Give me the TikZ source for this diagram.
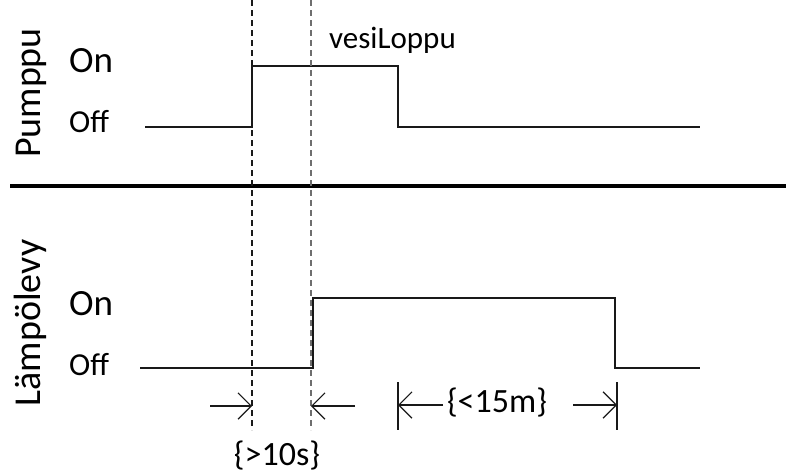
\documentclass[tikz,border=0pt]{standalone}
\usepackage{fontspec}
\setmainfont{Carlito}
\usetikzlibrary{arrows.meta,positioning}
\definecolor{sigblack}{RGB}{25,25,25}
\definecolor{guidegray}{RGB}{110,110,110}

\begin{document}
\begin{tikzpicture}[x=1pt,y=-1pt,
  signal/.style={line width=1.6pt,sigblack},
  guide/.style={dashed,dash pattern=on 6pt off 4pt,line width=1.1pt},
  tick/.style={line width=1.3pt,sigblack},
  dim/.style={-{Straight Barb[angle'=90,length=11pt,scale=1.2]},line width=1.1pt,sigblack},
  onlbl/.style={font=\fontsize{37}{40}\selectfont,anchor=base west,inner sep=0pt},
  offlbl/.style={font=\fontsize{32}{34}\selectfont,anchor=base west,inner sep=0pt},
  dimlbl/.style={font=\fontsize{34}{36}\selectfont,anchor=base,inner sep=0pt},
  signame/.style={font=\fontsize{38}{40}\selectfont,rotate=90,anchor=base,inner sep=0pt}]
\useasboundingbox (0,0) rectangle (786,474);
% upper signal: pump
\node[signame] (pumppu) at (40,93) {Pumppu};
\node[onlbl] (pon) at (69,72) {On};
\node[offlbl] (poff) at (69,132) {Off};
\coordinate (p0) at (145,127); \coordinate (p1) at (252,127);
\coordinate (p2) at (252,66); \coordinate (p3) at (398,66);
\coordinate (p4) at (398,127); \coordinate (p5) at (700,127);
\draw[signal] (p0) -- (p1) -- (p2) -- (p3) -- (p4) -- (p5);
\node[font=\fontsize{31}{33}\selectfont,anchor=base west,inner sep=0pt] (vesi) at (329,48) {vesiLoppu};
% separator
\coordinate (sepl) at (10,186); \coordinate (sepr) at (786,186);
\draw[line width=4pt] (sepl) -- (sepr);
% lower signal: hot plate
\node[signame] (levy) at (40,323) {Lämpölevy};
\node[onlbl] (lon) at (69,315) {On};
\node[offlbl] (loff) at (69,375) {Off};
\coordinate (l0) at (140,368); \coordinate (l1) at (313,368);
\coordinate (l2) at (313,298); \coordinate (l3) at (615,298);
\coordinate (l4) at (615,368); \coordinate (l5) at (700,368);
\draw[signal] (l0) -- (l1) -- (l2) -- (l3) -- (l4) -- (l5);
% timing guides
\coordinate (g1top) at (252,0); \coordinate (g1bot) at (252,430);
\coordinate (g2top) at (311,0); \coordinate (g2bot) at (311,430);
\draw[guide,sigblack] (g1top) -- (g1bot);
\draw[guide,guidegray] (g2top) -- (g2bot);
\coordinate (a1) at (210,406); \coordinate (a2) at (355,406);
\draw[dim] (a1) -- (a1 -| g1top);
\draw[dim] (a2) -- (a2 -| g2top);
\node[dimlbl] (ten) at (277,465) {\{>10s\}};
% heating limit
\coordinate (m1top) at (398,382); \coordinate (m1bot) at (398,430);
\coordinate (m2top) at (617,382); \coordinate (m2bot) at (617,430);
\draw[tick] (m1top) -- (m1bot);
\draw[tick] (m2top) -- (m2bot);
\node[dimlbl] (fifteen) at (497,412) {\{<15m\}};
\coordinate (b1) at (443,405); \coordinate (b2) at (573,405);
\draw[dim] (b1) -- (b1 -| m1top);
\draw[dim] (b2) -- (b2 -| m2top);
\end{tikzpicture}
\end{document}
